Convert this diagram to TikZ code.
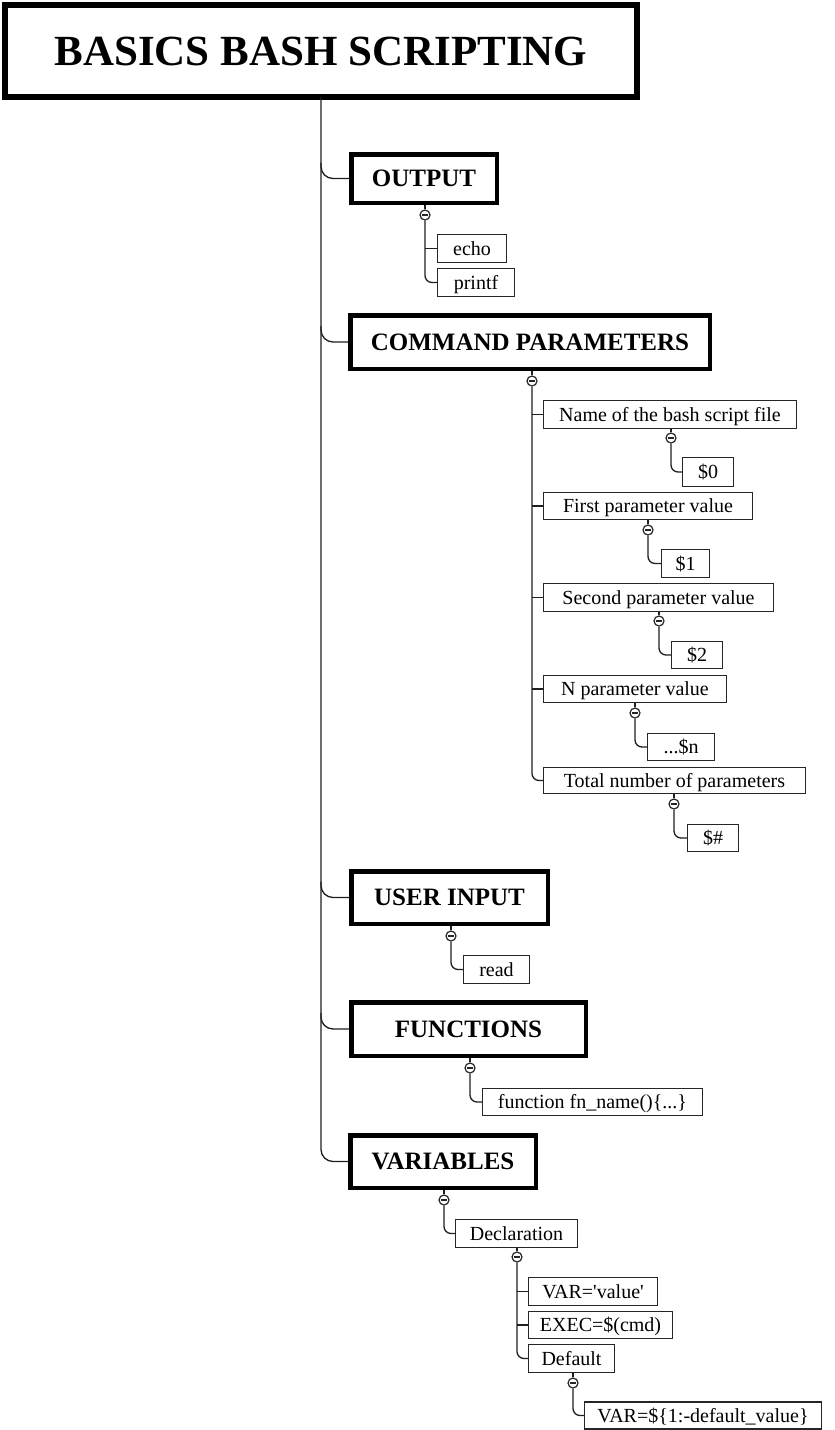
\documentclass[tikz,border=0pt]{standalone}
\usepackage{fontspec}
\setmainfont{Liberation Serif}
\usetikzlibrary{calc}
\tikzset{
  line/.style={draw=black!88, line width=1.3},
  titlebox/.style={draw=black, line width=6, inner sep=0, font=\bfseries\fontsize{43}{43}\selectfont},
  headbox/.style={draw=black, line width=4.5, inner sep=0, font=\bfseries\fontsize{25}{25}\selectfont},
  leafbox/.style={draw=black!85, line width=1.3, inner sep=0, text height=15.5, text depth=2.5, font=\fontsize{20}{20}\selectfont},
  tog/.style={circle, draw=black!85, line width=1.2, minimum size=10, inner sep=0, fill=white,
    path picture={\draw[line width=1.1] ([xshift=-3]path picture bounding box.center) -- ([xshift=3]path picture bounding box.center);}},
  trunkbranch/.style={line, rounded corners=12},
  subbranch/.style={line, rounded corners=7}
}
\begin{document}
\begin{tikzpicture}[x=1pt,y=-1pt]
\useasboundingbox (0,0) rectangle (835,1430);
% title
\node[titlebox, minimum width=632, minimum height=92] (title) at (321,51) {BASICS BASH SCRIPTING};
% headers
\node[headbox, minimum width=145.5, minimum height=48.5] (out) at (424,178.5) {OUTPUT};
\node[headbox, minimum width=359.5, minimum height=53.5] (cmd) at (530,342) {COMMAND PARAMETERS};
\node[headbox, minimum width=196.5, minimum height=52.5] (usr) at (449.5,897.5) {USER INPUT};
\node[headbox, minimum width=234.5, minimum height=53.5] (fun) at (468.5,1029) {FUNCTIONS\hspace{44pt}};
\node[headbox, minimum width=185.5, minimum height=52.5] (var) at (443,1161.5) {VARIABLES};
% trunk
\coordinate (T) at (321,97);
\draw[trunkbranch] (T) |- (var.west);
\foreach \h in {out,cmd,usr,fun}{
  \draw[trunkbranch] ($(T |- \h.west)+(0,-16)$) |- (\h.west);
}
% OUTPUT children
\node[tog] (cout) at (425,215) {};
\node[leafbox, minimum width=69, minimum height=28] (echo) at (472,248.5) {echo};
\node[leafbox, minimum width=77, minimum height=28] (printf) at (476,282.5) {printf};
\draw[line] (cout.north) -- (cout.north |- out.south);
\draw[line] (cout.south |- echo.west) -- (echo.west);
\draw[subbranch] (cout.south) |- (printf.west);
% COMMAND PARAMETERS children
\node[tog] (ccmd) at (532,381) {};
\node[leafbox, minimum width=253, minimum height=28] (name) at (670,414.5) {Name of the bash script file};
\node[leafbox, minimum width=209, minimum height=27] (first) at (648,506) {First parameter value};
\node[leafbox, minimum width=230, minimum height=28] (second) at (658.5,597.5) {Second parameter value};
\node[leafbox, minimum width=183, minimum height=27] (npar) at (635,689) {N parameter value};
\node[leafbox, minimum width=262, minimum height=26] (total) at (674.5,780.5) {Total number of parameters};
\draw[line] (ccmd.north) -- (ccmd.north |- cmd.south);
\foreach \c in {name,first,second,npar}{
  \draw[line] (ccmd.south |- \c.west) -- (\c.west);
}
\draw[subbranch] (ccmd.south) |- (total.west);
% parameter values
\node[tog] (cname) at (671,438) {};
\node[leafbox, minimum width=51, minimum height=29] (p0) at (708,472) {\$0};
\node[tog] (cfirst) at (648,530) {};
\node[leafbox, minimum width=48, minimum height=28] (p1) at (685.5,563.5) {\$1};
\node[tog] (csecond) at (659,621) {};
\node[leafbox, minimum width=51, minimum height=27] (p2) at (697,655) {\$2};
\node[tog] (cnpar) at (635,713) {};
\node[leafbox, minimum width=67, minimum height=27] (pn) at (681,747) {...\$n};
\node[tog] (ctotal) at (674,804) {};
\node[leafbox, minimum width=51, minimum height=27] (ph) at (713,838) {\$\#};
\foreach \c/\p/\v in {cname/name/p0, cfirst/first/p1, csecond/second/p2, cnpar/npar/pn, ctotal/total/ph}{
  \draw[line] (\c.north) -- (\c.north |- \p.south);
  \draw[subbranch] (\c.south) |- (\v.west);
}
% USER INPUT
\node[tog] (cusr) at (451,936) {};
\node[leafbox, minimum width=66, minimum height=28] (read) at (496.5,969.5) {read};
\draw[line] (cusr.north) -- (cusr.north |- usr.south);
\draw[subbranch] (cusr.south) |- (read.west);
% FUNCTIONS
\node[tog] (cfun) at (470,1068) {};
\node[leafbox, minimum width=220, minimum height=27] (fdef) at (592.5,1102) {function fn\_name()\{...\}};
\draw[line] (cfun.north) -- (cfun.north |- fun.south);
\draw[subbranch] (cfun.south) |- (fdef.west);
% VARIABLES
\node[tog] (cvar) at (444,1200) {};
\node[leafbox, minimum width=122, minimum height=28] (decl) at (516.5,1233.5) {Declaration};
\draw[line] (cvar.north) -- (cvar.north |- var.south);
\draw[subbranch] (cvar.south) |- (decl.west);
\node[tog] (cdecl) at (517,1257) {};
\node[leafbox, minimum width=129, minimum height=28] (vval) at (593,1291.5) {VAR=\textquotesingle value\textquotesingle};
\node[leafbox, minimum width=144, minimum height=27] (vexec) at (600.5,1325) {EXEC=\$(cmd)};
\node[leafbox, minimum width=86, minimum height=28] (vdef) at (571.5,1358.5) {Default};
\draw[line] (cdecl.north) -- (cdecl.north |- decl.south);
\draw[line] (cdecl.south |- vval.west) -- (vval.west);
\draw[line] (cdecl.south |- vexec.west) -- (vexec.west);
\draw[subbranch] (cdecl.south) |- (vdef.west);
\node[tog] (cdef) at (573,1383) {};
\node[leafbox, minimum width=237, minimum height=27] (vdefval) at (703,1415.5) {VAR=\$\{1:-default\_value\}};
\draw[line] (cdef.north) -- (cdef.north |- vdef.south);
\draw[subbranch] (cdef.south) |- (vdefval.west);
\end{tikzpicture}
\end{document}
